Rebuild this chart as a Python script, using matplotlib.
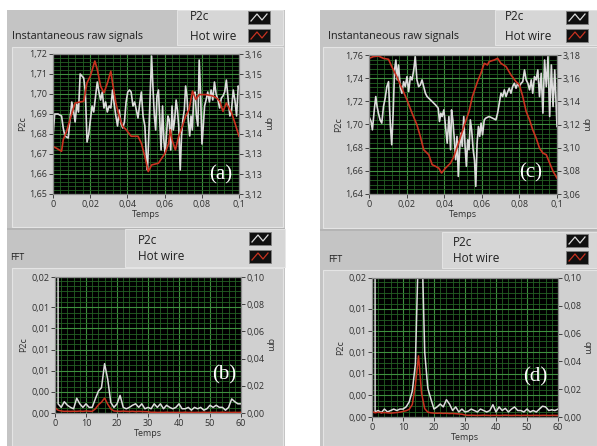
import numpy as np
import matplotlib
matplotlib.use('Agg')
import matplotlib.pyplot as plt
from matplotlib.patches import Rectangle
from matplotlib.lines import Line2D
from matplotlib.ticker import MultipleLocator, FixedLocator, FixedFormatter

plt.rcParams['font.family'] = ['Open Sans', 'DejaVu Sans']

# ---- data ----
# (a) raw signals, case 1 (time in ms)
a_p2c_t = [0, 0.9, 2.7, 4.6, 5.5, 6.4, 8.2, 9.1, 10.1, 11.0, 11.9, 12.8, 13.7, 14.6, 16.5,
           17.4, 18.3, 19.2, 20.1, 21.0, 21.9, 22.9, 23.8, 24.7, 25.6, 26.5, 27.4, 28.3, 29.2,
           30.2, 31.1, 32.0, 32.9, 33.8, 34.7, 35.6, 36.6, 37.5, 38.4, 39.3, 40.2, 41.1, 42.0,
           43.0, 43.9, 44.8, 45.7, 46.6, 47.5, 48.4, 49.4, 50.3, 50.8, 51.6, 52.3, 53.0, 53.7,
           54.5, 55.2, 55.9, 56.7, 57.4, 58.1, 58.9, 59.6, 60.3, 61.1, 61.8, 62.5, 63.3, 64.0,
           64.7, 65.4, 66.2, 66.9, 67.6, 68.4, 69.1, 69.8, 70.6, 71.3, 72.0, 72.8, 73.5, 74.2,
           74.9, 75.7, 76.4, 77.1, 77.9, 78.6, 79.3, 80.1, 80.8, 81.5, 82.3, 83.2, 84.1, 85.0,
           85.9, 86.8, 87.7, 88.7, 89.6, 90.5, 91.4, 92.3, 93.2, 94.2, 95.1, 96.0, 96.9, 97.8,
           98.7, 99.6, 100.0]
a_p2c = [1.679, 1.690, 1.690, 1.689, 1.683, 1.679, 1.678, 1.687, 1.696, 1.692, 1.686, 1.695,
         1.691, 1.710, 1.708, 1.701, 1.676, 1.680, 1.687, 1.694, 1.691, 1.699, 1.706, 1.701,
         1.697, 1.701, 1.693, 1.696, 1.691, 1.694, 1.693, 1.702, 1.695, 1.689, 1.684, 1.692,
         1.685, 1.683, 1.686, 1.696, 1.701, 1.702, 1.701, 1.694, 1.696, 1.692, 1.688, 1.695,
         1.701, 1.689, 1.684, 1.667, 1.662, 1.682, 1.701, 1.719, 1.704, 1.689, 1.682, 1.699,
         1.702, 1.687, 1.672, 1.694, 1.677, 1.670, 1.681, 1.689, 1.687, 1.672, 1.694, 1.682,
         1.687, 1.697, 1.692, 1.684, 1.662, 1.679, 1.687, 1.692, 1.704, 1.699, 1.686, 1.679,
         1.689, 1.682, 1.699, 1.701, 1.689, 1.684, 1.717, 1.701, 1.675, 1.684, 1.694, 1.697,
         1.701, 1.696, 1.702, 1.697, 1.706, 1.700, 1.697, 1.693, 1.698, 1.699, 1.701, 1.707,
         1.697, 1.689, 1.692, 1.702, 1.697, 1.689, 1.704, 1.703]
a_hw_t = [0, 1.8, 4.6, 5.5, 7.3, 9.1, 11.9, 16.5, 18.3, 20.1, 22.5, 23.8, 25.6, 27.4, 29.3,
          31.1, 32.0, 33.8, 35.6, 37.5, 39.3, 42.0, 45.7, 47.5, 49.4, 51.2, 53.0, 56.7, 60.3,
          62.2, 63.1, 64.0, 65.8, 67.6, 69.5, 71.3, 73.1, 75.0, 76.8, 78.6, 82.3, 85.9, 87.8,
          89.6, 91.4, 93.2, 96.0, 97.8, 100.0]
a_hw = [3.1336, 3.1331, 3.1322, 3.1355, 3.1379, 3.1412, 3.1460, 3.1465, 3.1518, 3.1537,
        3.1580, 3.1556, 3.1508, 3.1489, 3.1518, 3.1551, 3.1518, 3.1460, 3.1422, 3.1393,
        3.1384, 3.1365, 3.1365, 3.1345, 3.1307, 3.1264, 3.1283, 3.1288, 3.1317, 3.1345,
        3.1384, 3.1355, 3.1326, 3.1365, 3.1393, 3.1422, 3.1441, 3.1494, 3.1470, 3.1484,
        3.1484, 3.1480, 3.1475, 3.1465, 3.1436, 3.1460, 3.1432, 3.1403, 3.1365]

# (c) raw signals, case 2 (time in ms)
c_p2c_t = [0, 1.1, 1.8, 2.9, 3.6, 4.3, 5.0, 5.9, 6.8, 7.7, 8.6, 9.5, 10.4, 10.9, 11.4, 12.1,
           12.9, 13.6, 14.3, 15.0, 15.7, 16.6, 17.5, 18.4, 19.3, 20.2, 21.1, 22.0, 22.9, 23.8,
           24.6, 25.5, 26.4, 27.3, 28.2, 29.1, 30.0, 30.9, 31.8, 33.6, 35.4, 36.8, 37.5, 38.2,
           38.9, 39.8, 40.7, 41.6, 42.5, 43.4, 43.9, 44.6, 45.4, 46.1, 46.8, 47.5, 48.2, 48.9,
           49.6, 50.4, 51.1, 51.8, 52.5, 53.2, 53.9, 54.6, 55.4, 56.1, 56.8, 57.5, 58.2, 58.9,
           59.6, 60.4, 61.3, 62.1, 63.9, 65.7, 67.5, 68.4, 69.3, 70.2, 71.1, 72.0, 72.9, 73.8,
           74.6, 75.5, 76.4, 77.3, 78.2, 79.1, 80.0, 80.9, 81.8, 82.7, 83.6, 84.5, 85.4, 86.3,
           87.1, 88.0, 88.9, 89.8, 90.7, 91.6, 92.5, 93.4, 94.3, 95.2, 96.1, 97.0, 97.9, 98.8,
           100.0]
c_p2c = [1.7069, 1.7026, 1.6954, 1.7141, 1.7241, 1.7155, 1.7098, 1.7040, 1.7012, 1.7155,
         1.7227, 1.7327, 1.7370, 1.7155, 1.6983, 1.6825, 1.7126, 1.7471, 1.7557, 1.7385,
         1.7514, 1.7327, 1.7270, 1.7370, 1.7327, 1.7413, 1.7284, 1.7413, 1.7385, 1.7471,
         1.7586, 1.7385, 1.7327, 1.7342, 1.7385, 1.7327, 1.7270, 1.7241, 1.7227, 1.7198,
         1.7169, 1.7141, 1.7026, 1.7098, 1.7069, 1.7126, 1.6983, 1.6839, 1.7069, 1.6782,
         1.7126, 1.7040, 1.6868, 1.6696, 1.6897, 1.6552, 1.6782, 1.6926, 1.6811, 1.7069,
         1.6811, 1.6639, 1.6868, 1.6782, 1.7040, 1.6954, 1.6782, 1.6696, 1.6466, 1.6839,
         1.6983, 1.6897, 1.7012, 1.6911, 1.7040, 1.7055, 1.7069, 1.7055, 1.7040, 1.7098,
         1.7184, 1.7270, 1.7241, 1.7299, 1.7241, 1.7284, 1.7313, 1.7270, 1.7327, 1.7356,
         1.7313, 1.7356, 1.7327, 1.7356, 1.7370, 1.7471, 1.7385, 1.7356, 1.7299, 1.7385,
         1.7270, 1.7413, 1.7385, 1.7471, 1.7241, 1.7442, 1.7098, 1.7557, 1.7327, 1.7586,
         1.7069, 1.7514, 1.7155, 1.7471, 1.6983]
c_hw_t = [0, 2.3, 5.0, 7.7, 10.4, 12.1, 14.8, 17.5, 20.2, 22.9, 25.5, 27.3, 29.1, 31.8, 33.6,
          35.4, 37.1, 38.6, 40.7, 43.4, 45.2, 47.9, 50.5, 53.2, 55.0, 57.7, 59.5, 61.3, 63.0,
          63.9, 66.6, 68.4, 70.2, 72.9, 75.5, 78.2, 80.0, 81.8, 83.6, 85.4, 87.1, 88.9, 90.7,
          92.5, 94.3, 96.1, 97.9, 100.0]
c_hw = [3.1771, 3.1786, 3.1791, 3.1771, 3.1763, 3.1700, 3.1613, 3.1513, 3.1413, 3.1298,
        3.1197, 3.1097, 3.0982, 3.0939, 3.0853, 3.0839, 3.0824, 3.0781, 3.0824, 3.0867,
        3.0925, 3.1054, 3.1183, 3.1312, 3.1441, 3.1570, 3.1642, 3.1728, 3.1714, 3.1743,
        3.1757, 3.1771, 3.1728, 3.1700, 3.1628, 3.1570, 3.1542, 3.1441, 3.1312, 3.1240,
        3.1154, 3.1083, 3.0996, 3.0953, 3.0939, 3.0867, 3.0796, 3.0738]

# (b) and (d) FFT, 0..60 Hz in 1 Hz steps (first P2c bin = DC, off scale)
freq = list(range(61))
b_p2c = [1.69, 0.0013, 0.0008, 0.0016, 0.0011, 0.0008, 0.0006, 0.0021, 0.0013, 0.0008,
         0.0013, 0.0008, 0.0008, 0.0020, 0.0031, 0.0036, 0.0070, 0.0048, 0.0015, 0.0008,
         0.0013, 0.0025, 0.0008, 0.0006, 0.0008, 0.0011, 0.0013, 0.0008, 0.0013, 0.0006,
         0.0008, 0.0006, 0.0013, 0.0008, 0.0013, 0.0006, 0.0011, 0.0008, 0.0006, 0.0008,
         0.0013, 0.0006, 0.0006, 0.0008, 0.0004, 0.0008, 0.0006, 0.0008, 0.0004, 0.0006,
         0.0011, 0.0008, 0.0011, 0.0008, 0.0008, 0.0004, 0.0008, 0.0020, 0.0016, 0.0013,
         0.0013]
b_hw = [0.0040, 0.0020, 0.0015, 0.0012, 0.0013, 0.0012, 0.0013, 0.0012, 0.0014, 0.0012,
        0.0015, 0.0013, 0.0012, 0.0030, 0.0060, 0.0080, 0.0110, 0.0065, 0.0030, 0.0015,
        0.0013, 0.0012, 0.0014, 0.0012, 0.0011, 0.0013, 0.0010, 0.0012, 0.0011, 0.0010,
        0.0009, 0.0005, 0.0006, 0.0004, 0.0005, 0.0004, 0.0006, 0.0004, 0.0005, 0.0004,
        0.0005, 0.0004, 0.0006, 0.0004, 0.0005, 0.0004, 0.0005, 0.0004, 0.0006, 0.0004,
        0.0005, 0.0004, 0.0005, 0.0004, 0.0006, 0.0004, 0.0005, 0.0004, 0.0005, 0.0004,
        0.0005]
d_p2c = [1.72, 0.0007, 0.0009, 0.0006, 0.0011, 0.0007, 0.0009, 0.0011, 0.0009, 0.0011,
         0.0011, 0.0014, 0.0021, 0.0036, 0.0074, 0.0240, 0.0260, 0.0090, 0.0040, 0.0025,
         0.0011, 0.0014, 0.0018, 0.0014, 0.0024, 0.0018, 0.0009, 0.0014, 0.0007, 0.0011,
         0.0007, 0.0008, 0.0011, 0.0009, 0.0007, 0.0011, 0.0009, 0.0007, 0.0009, 0.0017,
         0.0007, 0.0014, 0.0009, 0.0012, 0.0007, 0.0011, 0.0014, 0.0009, 0.0009, 0.0007,
         0.0011, 0.0007, 0.0009, 0.0007, 0.0011, 0.0015, 0.0014, 0.0009, 0.0010, 0.0009,
         0.0011]
d_hw = [0.0040, 0.0030, 0.0035, 0.0030, 0.0032, 0.0030, 0.0028, 0.0030, 0.0032, 0.0035,
        0.0040, 0.0045, 0.0055, 0.0090, 0.0230, 0.0440, 0.0170, 0.0060, 0.0035, 0.0030,
        0.0028, 0.0027, 0.0028, 0.0026, 0.0027, 0.0025, 0.0026, 0.0024, 0.0022, 0.0020,
        0.0014, 0.0012, 0.0013, 0.0012, 0.0011, 0.0012, 0.0013, 0.0012, 0.0011, 0.0012,
        0.0012, 0.0011, 0.0012, 0.0013, 0.0012, 0.0011, 0.0012, 0.0012, 0.0011, 0.0012,
        0.0012, 0.0011, 0.0012, 0.0012, 0.0011, 0.0012, 0.0012, 0.0011, 0.0012, 0.0012,
        0.0011]

# tick labels (LabVIEW style, decimal comma)
t_ticks = [0, 0.02, 0.04, 0.06, 0.08, 0.1]
t_labels = ['0', '0,02', '0,04', '0,06', '0,08', '0,1']
a_left = [1.65, 1.66, 1.67, 1.68, 1.69, 1.70, 1.71, 1.72]
a_left_lab = ['1,65', '1,66', '1,67', '1,68', '1,69', '1,70', '1,71', '1,72']
a_right = list(np.linspace(3.12, 3.16, 8))
a_right_lab = ['3,12', '3,13', '3,13', '3,14', '3,14', '3,15', '3,15', '3,16']
c_left = [1.64, 1.66, 1.68, 1.70, 1.72, 1.74, 1.76]
c_left_lab = ['1,64', '1,66', '1,68', '1,70', '1,72', '1,74', '1,76']
c_right = [3.06, 3.08, 3.10, 3.12, 3.14, 3.16, 3.18]
c_right_lab = ['3,06', '3,08', '3,10', '3,12', '3,14', '3,16', '3,18']
f_ticks = [0, 10, 20, 30, 40, 50, 60]
fft_left = [0, 0.003, 0.006, 0.009, 0.012, 0.015, 0.0193]
fft_left_lab = ['0,00', '0,00', '0,01', '0,01', '0,01', '0,01', '0,02']
fft_right = [0, 0.02, 0.04, 0.06, 0.08, 0.10]
fft_right_lab = ['0,00', '0,02', '0,04', '0,06', '0,08', '0,10']

# ---- figure ----
W, H = 597, 446
fig = plt.figure(figsize=(W / 100, H / 100), dpi=100)
fig.patch.set_facecolor('white')

PANEL = '#c4c4c4'
FRAME = '#d0d0d0'
LEGBOX = '#d6d6d6'
WHITE_LINE = '#dcdcdc'
RED_LINE = '#c83220'
TXT = '#303030'


def box(x0, y0, x1, y1):
    return [x0 / W, 1 - y1 / H, (x1 - x0) / W, (y1 - y0) / H]


def rect(x0, y0, x1, y1, fc, ec='none', lw=0.0):
    b = box(x0, y0, x1, y1)
    fig.add_artist(Rectangle((b[0], b[1]), b[2], b[3], transform=fig.transFigure,
                             facecolor=fc, edgecolor=ec, linewidth=lw, zorder=-2))


def ftext(x, y, s, **kw):
    fig.text(x / W, 1 - y / H, s, **kw)


def legend_icon(x0, y0, color):
    rect(x0, y0, x0 + 22, y0 + 13, '#101010', ec='#808080', lw=0.6)
    xs = np.array([x0 + 3, x0 + 9, x0 + 14, x0 + 19]) / W
    ys = 1 - np.array([y0 + 10, y0 + 3, y0 + 9, y0 + 3]) / H
    fig.add_artist(Line2D(xs, ys, transform=fig.transFigure, color=color, lw=0.9, zorder=-1))


def legend(x0, y0, x1, y1, tx, ty1, ty2, ix, iy1, iy2):
    rect(x0, y0, x1, y1, LEGBOX, ec='#e8e8e8', lw=0.6)
    ftext(tx, ty1, 'P2c', fontsize=8.5, color='#202020', va='center')
    ftext(tx, ty2, 'Hot wire', fontsize=8.5, color='#202020', va='center')
    legend_icon(ix, iy1, WHITE_LINE)
    legend_icon(ix, iy2, RED_LINE)


# gray LabVIEW panels
rect(7, 10, 285, 446, PANEL)
rect(320, 10, 597, 446, PANEL)
rect(12, 47, 283, 227, FRAME, ec='#e4e4e4', lw=0.8)
rect(323, 47, 597, 228, FRAME, ec='#e4e4e4', lw=0.8)
rect(12, 268, 283, 446, FRAME, ec='#e4e4e4', lw=0.8)
rect(323, 270, 597, 446, FRAME, ec='#e4e4e4', lw=0.8)
rect(7, 228, 285, 230, '#b4b4b4')
rect(320, 229, 597, 231, '#b4b4b4')

legend(177, 10, 283, 45, 190, 17, 36, 248, 11, 29)
legend(495, 10, 597, 45, 505, 17, 36, 566, 11, 29)
legend(125, 229, 285, 267, 138, 240, 257, 249, 232, 250)
legend(442, 232, 597, 268, 453, 242, 259, 566, 234, 251)

ftext(12, 37, 'Instantaneous raw signals', fontsize=7.8, color='#202020', va='center')
ftext(328, 36, 'Instantaneous raw signals', fontsize=7.8, color='#202020', va='center')
ftext(10, 257, 'FFT', fontsize=6.5, color='#202020', va='center')
ftext(328, 260, 'FFT', fontsize=6.5, color='#202020', va='center')


def style(ax, ax2):
    ax.set_facecolor('black')
    ax.set_axisbelow(True)
    ax.grid(True, which='major', color='#3f8f3f', lw=0.8)
    ax.grid(True, which='minor', color='#236023', lw=0.6)
    for a in (ax, ax2):
        for s in a.spines.values():
            s.set_color('#8a8a8a')
            s.set_linewidth(0.8)
        a.tick_params(which='major', direction='out', length=3, width=0.7, color='#404040',
                      labelsize=6.5, labelcolor=TXT, pad=1)
        a.tick_params(which='minor', length=0)
    ax.set_xlabel('Temps', fontsize=6.5, color=TXT, labelpad=1)
    ax.set_ylabel('P2c', fontsize=6.5, color=TXT, labelpad=2)
    ax2.set_ylabel('qm', fontsize=6.5, color=TXT, rotation=-90, labelpad=7)


def raw_panel(pos, tp, p2c, th, hw, lt, ll, rt, rl, ylim_l, ylim_r, yminor, letter, lx, ly):
    ax = fig.add_axes(box(*pos))
    ax2 = ax.twinx()
    ax.plot(np.array(tp) / 1000, p2c, color=WHITE_LINE, lw=1.2)
    ax2.plot(np.array(th) / 1000, hw, color=RED_LINE, lw=1.2)
    ax.set_xlim(0, 0.1)
    ax.set_ylim(*ylim_l)
    ax2.set_ylim(*ylim_r)
    ax.xaxis.set_major_locator(FixedLocator(t_ticks))
    ax.xaxis.set_major_formatter(FixedFormatter(t_labels))
    ax.xaxis.set_minor_locator(MultipleLocator(0.004))
    ax.yaxis.set_major_locator(FixedLocator(lt))
    ax.yaxis.set_major_formatter(FixedFormatter(ll))
    ax.yaxis.set_minor_locator(MultipleLocator(yminor))
    ax2.yaxis.set_major_locator(FixedLocator(rt))
    ax2.yaxis.set_major_formatter(FixedFormatter(rl))
    style(ax, ax2)
    ax2.text(lx, ly, letter, transform=ax2.transAxes, fontsize=15, color='white',
             family=['Liberation Serif', 'DejaVu Serif'], ha='center', va='center')


def fft_panel(pos, p2c, hw, letter, lx, ly):
    ax = fig.add_axes(box(*pos))
    ax2 = ax.twinx()
    ax.plot(freq, p2c, color=WHITE_LINE, lw=1.1)
    ax2.plot(freq, hw, color=RED_LINE, lw=1.1)
    ax.set_xlim(0, 60)
    ax.set_ylim(0, 0.0193)
    ax2.set_ylim(0, 0.10)
    ax.xaxis.set_major_locator(FixedLocator(f_ticks))
    ax.xaxis.set_minor_locator(MultipleLocator(2))
    ax.yaxis.set_major_locator(FixedLocator(fft_left))
    ax.yaxis.set_major_formatter(FixedFormatter(fft_left_lab))
    ax.yaxis.set_minor_locator(MultipleLocator(0.00075))
    ax2.yaxis.set_major_locator(FixedLocator(fft_right))
    ax2.yaxis.set_major_formatter(FixedFormatter(fft_right_lab))
    style(ax, ax2)
    ax2.text(lx, ly, letter, transform=ax2.transAxes, fontsize=15, color='white',
             family=['Liberation Serif', 'DejaVu Serif'], ha='center', va='center')


raw_panel((53, 54, 239, 194), a_p2c_t, a_p2c, a_hw_t, a_hw, a_left, a_left_lab,
          a_right, a_right_lab, (1.65, 1.72), (3.12, 3.16), 0.002, '(a)', 0.90, 0.14)
raw_panel((369, 55, 557, 194), c_p2c_t, c_p2c, c_hw_t, c_hw, c_left, c_left_lab,
          c_right, c_right_lab, (1.64, 1.76), (3.06, 3.18), 0.004, '(c)', 0.86, 0.15)
fft_panel((55, 277, 241, 413), b_p2c, b_hw, '(b)', 0.91, 0.28)
fft_panel((372, 278, 558, 417), d_p2c, d_hw, '(d)', 0.88, 0.29)

fig.savefig('out.png', dpi=100, facecolor='white')
